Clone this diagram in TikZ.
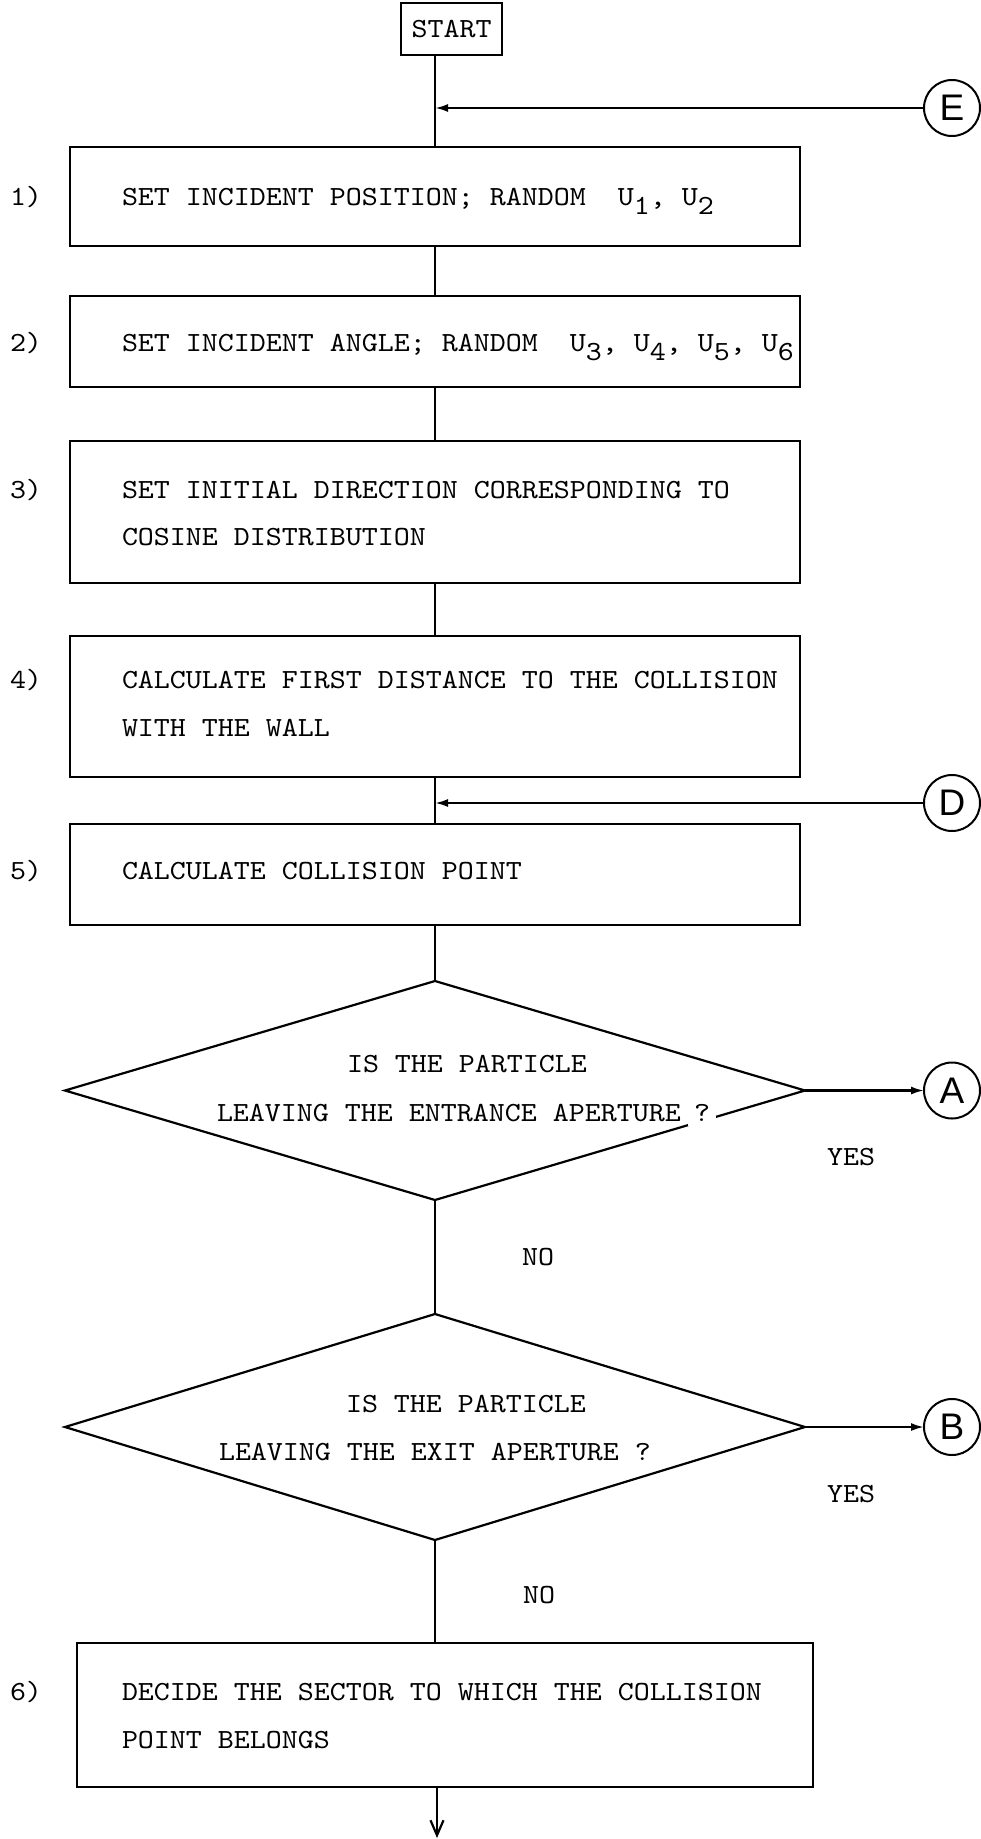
\documentclass[tikz,border=0pt]{standalone}
\usepackage{fontspec}
\usetikzlibrary{shapes.geometric,arrows.meta}
\newfontfamily\tw{lmmono10-regular.otf}[FakeStretch=1.1]
\newfontfamily\cf{Liberation Sans}
\newcommand{\sbs}[1]{\raisebox{-9pt}{#1}}
\begin{document}
\begin{tikzpicture}[x=1pt,y=-1pt,
  every node/.style={inner sep=0pt, outer sep=0pt},
  line width=2.2pt,
  box/.style={draw, rectangle, line width=2.2pt},
  dia/.style={draw, diamond, line width=2.2pt},
  conn/.style={draw, circle, line width=2pt, minimum size=56pt, font=\cf\fontsize{37}{37}\selectfont},
  txt/.style={anchor=base west, font=\tw\fontsize{27.7}{33}\selectfont},
  farrow/.style={-{Latex[length=13pt,width=8pt]}},
  oarrow/.style={-{Straight Barb[length=15pt,width=13pt]}}
]
\useasboundingbox (0,0) rectangle (981,1839);

% START
\node[box, minimum width=101pt, minimum height=52pt, font=\tw\fontsize{27.7}{33}\selectfont] (start) at (451.5,29) {START};

% boxes
\node[box, minimum width=730pt, minimum height=99pt] (b1) at (435,196.5) {};
\node[box, minimum width=730pt, minimum height=91pt] (b2) at (435,341.5) {};
\node[box, minimum width=730pt, minimum height=142pt] (b3) at (435,512) {};
\node[box, minimum width=730pt, minimum height=141pt] (b4) at (435,706.5) {};
\node[box, minimum width=730pt, minimum height=101pt] (b5) at (435,874.5) {};
\node[dia, minimum width=740pt, minimum height=219pt] (q1) at (435,1090.5) {};
\node[dia, minimum width=740pt, minimum height=226pt] (q2) at (435,1427) {};
\node[box, minimum width=736pt, minimum height=144pt] (b6) at (445,1715) {};

% connectors (circles)
\node[conn] (E) at (952,108) {E};
\node[conn] (D) at (952,803) {D};
\node[conn] (A) at (952,1090.5) {A};
\node[conn] (B) at (952,1427) {B};

% step labels
\node[txt] (l1) at (10,205.5) {1)};
\node[txt] (l2) at (10,351.5) {2)};
\node[txt] (l3) at (10,498.5) {3)};
\node[txt] (l4) at (10,688.5) {4)};
\node[txt] (l5) at (10,879.5) {5)};
\node[txt] (l6) at (10,1700.5) {6)};

% box texts
\node[txt] (t1) at (122,205.5) {SET INCIDENT POSITION; RANDOM~~U\sbs{1}, U\sbs{2}};
\node[txt] (t2) at (122,351.5) {SET INCIDENT ANGLE; RANDOM~~U\sbs{3}, U\sbs{4}, U\sbs{5}, U\sbs{6}};
\node[txt] (t3a) at (122,498.5) {SET INITIAL DIRECTION CORRESPONDING TO};
\node[txt] (t3b) at (122,545.5) {COSINE DISTRIBUTION};
\node[txt] (t4a) at (122,688.5) {CALCULATE FIRST DISTANCE TO THE COLLISION};
\node[txt] (t4b) at (122,736.5) {WITH THE WALL};
\node[txt] (t5) at (122,879.5) {CALCULATE COLLISION POINT};
\node[txt] (t6a) at (122,1700.5) {DECIDE THE SECTOR TO WHICH THE COLLISION};
\node[txt] (t6b) at (122,1748.5) {POINT BELONGS};

% diamond texts
\node[txt] (q1a) at (347,1072.5) {IS THE PARTICLE};
\node[txt] (q1b) at (217,1121.5) {LEAVING THE ENTRANCE APERTURE};
\node[anchor=base, fill=white, inner xsep=6pt, inner ysep=4pt, font=\tw\fontsize{27.7}{33}\selectfont] (q1c) at (702,1121.5) {?};
\node[txt] (q2a) at (346,1412.5) {IS THE PARTICLE};
\node[txt] (q2b) at (219,1460.5) {LEAVING THE EXIT APERTURE ?};

% yes / no
\node[txt] (y1) at (827,1165.5) {YES};
\node[txt] (y2) at (827,1502.5) {YES};
\node[txt] (n1) at (522,1265.5) {NO};
\node[txt] (n2) at (523,1603.5) {NO};

\coordinate (end) at (437,1838);

% connectors
\draw (b1.north |- start.south) -- (b1.north);
\draw[farrow] (E) -- (E -| b1.north);
\draw (b1) -- (b2);
\draw (b2) -- (b3);
\draw (b3) -- (b4);
\draw (b4) -- (b5);
\draw[farrow] (D) -- (D -| b4.south);
\draw (b5) -- (q1);
\draw[farrow] (q1.east) -- (A);
\draw (q1) -- (q2);
\draw[farrow] (q2.east) -- (B);
\draw (q2.south) -- (q2.south |- b6.north);
\draw[oarrow] (b6.south -| end) -- (end);
\end{tikzpicture}
\end{document}
